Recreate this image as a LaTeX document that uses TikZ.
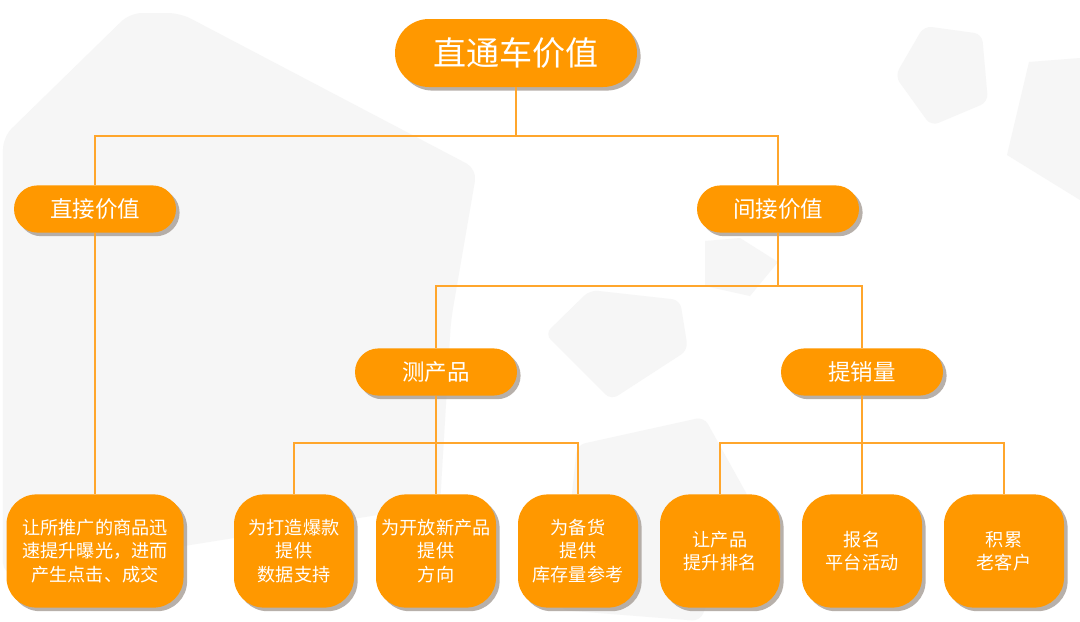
\documentclass[tikz,border=0pt]{standalone}
\usepackage{fontspec}
\setmainfont{Noto Sans CJK SC}
\usetikzlibrary{positioning, shadows}
\definecolor{chengse}{RGB}{255,152,0}
\definecolor{xianse}{RGB}{255,166,44}
\definecolor{beijing}{RGB}{246,246,246}
\definecolor{yinying}{RGB}{160,150,142}

\begin{document}
\begin{tikzpicture}[
    box/.style={fill=chengse, text=white, inner sep=0pt, align=center,
        drop shadow={shadow xshift=0.09cm, shadow yshift=-0.09cm, fill=yinying, opacity=0.75}},
    rootbox/.style={box, minimum width=6.05cm, minimum height=1.7cm, rounded corners=0.85cm,
        font=\fontsize{23.5}{28}\selectfont},
    midbox/.style={box, minimum width=4.05cm, minimum height=1.18cm, rounded corners=0.59cm,
        font=\fontsize{16}{19}\selectfont},
    leafbox/.style={box, minimum width=3cm, minimum height=2.83cm, rounded corners=0.75cm,
        font=\fontsize{12.9}{16.7}\selectfont},
    link/.style={draw=xianse, line width=1.3pt}]
    \useasboundingbox[fill=white] (0,0) rectangle (27,-15.525);

    % 背景
    \fill[beijing, rounded corners=0.3cm] (0.075,-3.425) -- (3.25,-0.325) -- (4.5,-0.325)
        -- (11.925,-4.225) -- (11.275,-8) -- (11,-12.625) -- (0.075,-14.375) -- cycle;
    \fill[beijing, rounded corners=0.2cm] (22.375,-1.9) -- (23.1,-0.65) -- (24.55,-0.85)
        -- (24.7,-2.55) -- (23.275,-3.15) -- cycle;
    \fill[beijing] (25.725,-1.55) -- (27,-1.45) -- (27,-5) -- (25.175,-3.875) -- cycle;
    \fill[beijing, rounded corners=0.2cm] (13.625,-8.35) -- (14.75,-7.25) -- (17,-7.5)
        -- (17.2,-8.75) -- (15.275,-10) -- cycle;
    \fill[beijing] (17.625,-6.025) -- (18.5,-5.95) -- (19.45,-6.55) -- (18.75,-7.4)
        -- (17.625,-7.15) -- cycle;
    \fill[beijing, rounded corners=0.2cm] (14.425,-11.125) -- (17.6,-10.425) -- (18.75,-12.5)
        -- (17.5,-15.525) -- (14,-15.25) -- cycle;

    % 节点
    \node[rootbox] (root) at (12.9,-1.325) {直通车价值};
    \node[midbox] (direct) at (2.375,-5.225) {直接价值};
    \node[midbox] (indirect) at (19.45,-5.225) {间接价值};
    \node[midbox] (test) at (10.9,-9.3) {测产品};
    \node[midbox] (sales) at (21.55,-9.3) {提销量};

    \node[leafbox, minimum width=4.425cm] (expose) at (2.375,-13.775)
        {让所推广的商品迅\\速提升曝光，进而\\产生点击、成交};
    \node[leafbox] (hot) at (7.35,-13.775) {为打造爆款\\提供\\数据支持};
    \node[leafbox] (newp) at (10.9,-13.775) {为开放新产品\\提供\\方向};
    \node[leafbox] (stock) at (14.45,-13.775) {为备货\\提供\\库存量参考};
    \node[leafbox] (rank) at (18,-13.775) {让产品\\提升排名};
    \node[leafbox] (event) at (21.55,-13.775) {报名\\平台活动};
    \node[leafbox] (loyal) at (25.1,-13.775) {积累\\老客户};

    % 连线
    \coordinate (bus1) at (12.9,-3.4);
    \coordinate (bus2) at (19.45,-7.15);
    \coordinate (bus3) at (10.9,-11.075);
    \coordinate (bus4) at (21.55,-11.075);

    \draw[link] (root) -- (bus1);
    \draw[link] (bus1) -| (direct);
    \draw[link] (bus1) -| (indirect);
    \draw[link] (direct) -- (expose);
    \draw[link] (indirect) -- (bus2);
    \draw[link] (bus2) -| (test);
    \draw[link] (bus2) -| (sales);
    \draw[link] (test) -- (bus3);
    \draw[link] (bus3) -| (hot);
    \draw[link] (bus3) -- (newp);
    \draw[link] (bus3) -| (stock);
    \draw[link] (sales) -- (bus4);
    \draw[link] (bus4) -| (rank);
    \draw[link] (bus4) -- (event);
    \draw[link] (bus4) -| (loyal);
\end{tikzpicture}
\end{document}
